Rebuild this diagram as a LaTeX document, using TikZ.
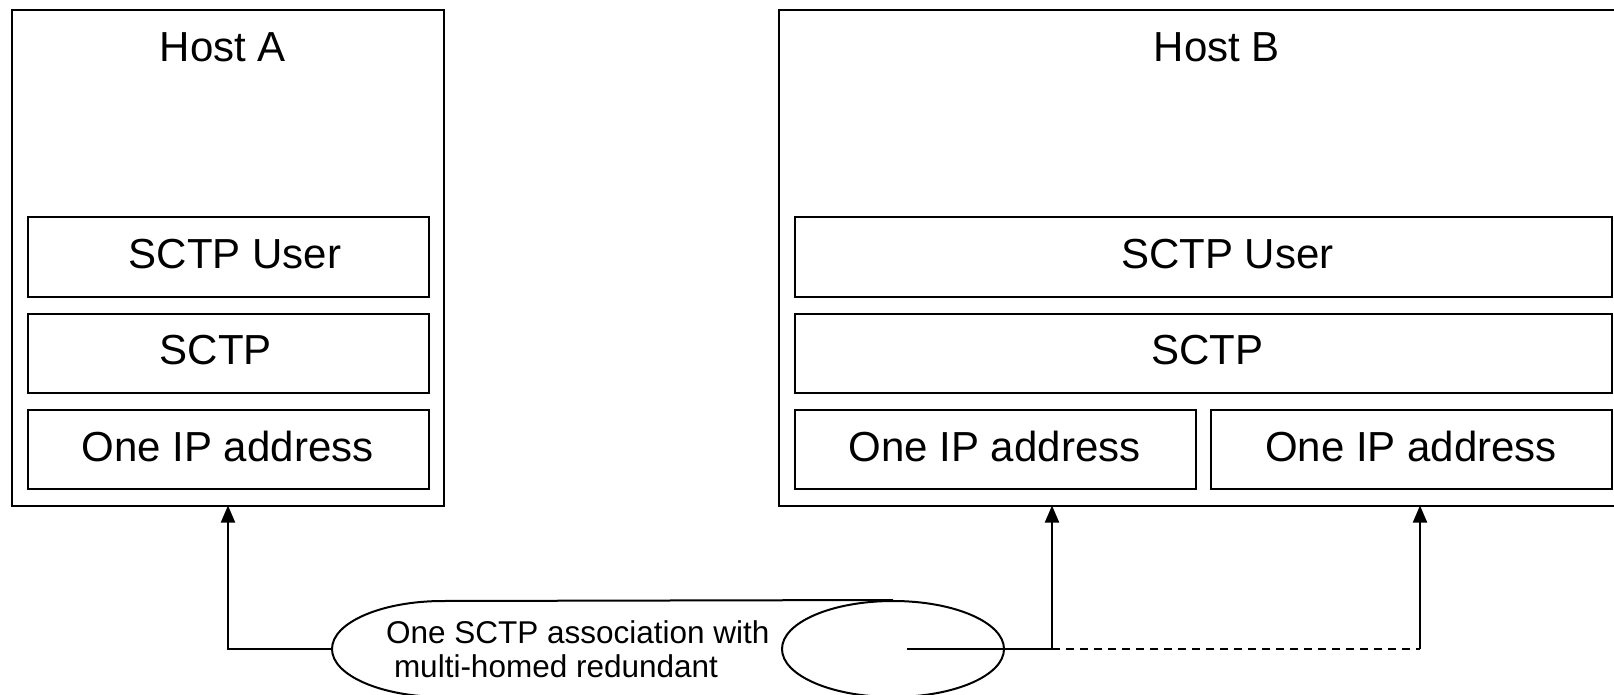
\documentclass[tikz,border=0pt]{standalone}
\usepackage{fontspec}
\setmainfont{Liberation Sans}
\usetikzlibrary{arrows.meta,shapes.geometric}
\begin{document}
\begin{tikzpicture}[x=1pt,y=-1pt, line width=2pt,
  hostbox/.style={draw, rectangle, anchor=north west, inner sep=0pt, outer sep=0pt},
  layerbox/.style={draw, rectangle, anchor=north west, inner sep=0pt, outer sep=0pt, minimum height=79.5pt},
  big/.style={font=\fontsize{42}{48}\selectfont, anchor=base, inner sep=0pt},
  small/.style={font=\fontsize{31.5}{34}\selectfont, anchor=base west, inner sep=0pt},
  arr/.style={-{Triangle[length=17pt,width=14pt]}, line width=2pt},
  dashline/.style={dash pattern=on 8pt off 6pt}]
\useasboundingbox (0,0) rectangle (1614,695);
% Host A
\node[hostbox, minimum width=432pt, minimum height=495.5pt] (hostA) at (12,10) {};
\node[layerbox, minimum width=401pt] (userA) at (27.5,217.5) {};
\node[layerbox, minimum width=401pt] (sctpA) at (27.5,313.5) {};
\node[layerbox, minimum width=401pt] (ipA) at (27.5,409.5) {};
\node[big] (tHostA) at (223,61.5) {Host A};
\node[big] (tUserA) at (235,268) {SCTP User};
\node[big] (tSctpA) at (215.7,364.3) {SCTP};
\node[big] (tIpA) at (227.5,461) {One IP address};
% Host B
\node[hostbox, minimum width=870pt, minimum height=495.5pt] (hostB) at (779,10) {};
\node[layerbox, minimum width=817pt] (userB) at (795,217.5) {};
\node[layerbox, minimum width=817pt] (sctpB) at (795,313.5) {};
\node[layerbox, minimum width=401pt] (ipB1) at (795,409.5) {};
\node[layerbox, minimum width=401pt] (ipB2) at (1211,409.5) {};
\node[big] (tHostB) at (1217,61.5) {Host B};
\node[big] (tUserB) at (1227.5,268.5) {SCTP User};
\node[big] (tSctpB) at (1207,364.5) {SCTP};
\node[big] (tIpB1) at (994.5,461) {One IP address};
\node[big] (tIpB2) at (1411,461) {One IP address};
% association pipe
\node[draw, ellipse, minimum width=222pt, minimum height=96pt, inner sep=0pt] (endR) at (893,649) {};
\draw (443,601) arc[start angle=270, end angle=90, x radius=111, y radius=48] -- (endR.south);
\draw (443,601) -- (endR.north);
\node[small] (assoc1) at (385,643.5) {One SCTP association with};
\node[small] (assoc2) at (393,677) {multi-homed redundant};
\coordinate (cylL) at (332,649);
\coordinate (jin) at (907,649);
\coordinate (j1) at (1052,649);
\coordinate (j2) at (1420,649);
% connectors
\draw[arr] (cylL) -| (hostA.south);
\draw[arr] (jin) -| (j1 |- hostB.south);
\draw[dashline] (j1) -- (j2);
\draw[arr] (j2) -- (j2 |- hostB.south);
\end{tikzpicture}
\end{document}
